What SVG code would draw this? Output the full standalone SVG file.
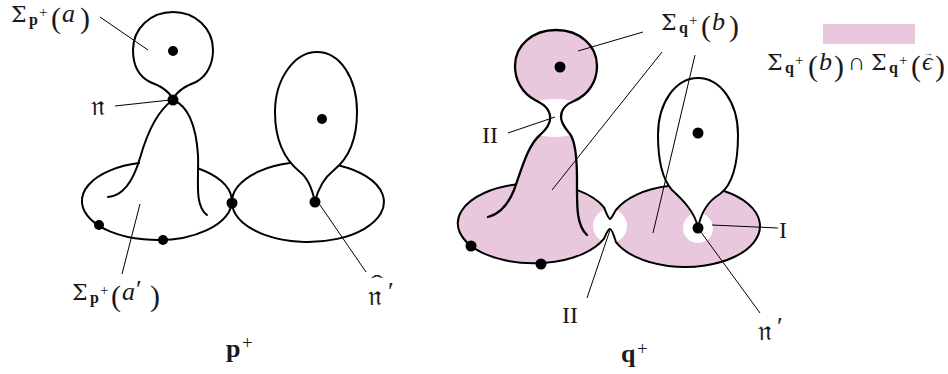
<svg xmlns="http://www.w3.org/2000/svg" width="948" height="374" viewBox="0 0 948 374">
<style>
.ln{fill:none;stroke:#000;stroke-width:2;stroke-linecap:round;stroke-linejoin:round}
.lq{fill:none;stroke:#000;stroke-width:2.3;stroke-linecap:round;stroke-linejoin:round}
.ld{fill:none;stroke:#000;stroke-width:1}
.dot{fill:#000}
.pk{fill:#E9C8DE}
.wh{fill:#fff}
.t{font-family:"Liberation Serif","DejaVu Serif",serif;fill:#1a1a1a;font-size:24px}
.sg{font-family:"DejaVu Serif","Liberation Serif",serif;font-size:22px}
.sb{font-weight:bold;font-size:16px}
.sp{font-size:15px}
.pr{font-size:30px}
.i{font-style:italic;font-size:26px}
.fr{font-family:"DejaVu Serif","Noto Sans","DejaVu Sans",serif;font-size:27px}
.big{font-weight:bold;font-size:26px}
.bigp{font-size:19px}
.prm{font-size:26px}
</style>
<rect width="948" height="374" fill="#fff"/>

<!-- p+ diagram -->
<g id="p-top-loop">
<path class="ln" d="M173,99 C168,90 160,86 150,82 C138,76 133,64 133,50 C133,28 151,12 173,12 C195,12 213,28 213,50 C213,64 207,76 196,82 C186,86 178,90 173,99"/>
<circle class="dot" cx="173" cy="51" r="5"/>
</g>
<g id="p-hill">
<path class="ln" d="M173,100 C158,110 148,130 140,158 C133,182 122,196 108,197"/>
<path class="ln" d="M173,100 C188,106 196,125 198,155 C199,180 194,205 207,215"/>
</g>
<g id="p-left-disc">
<path class="ln" d="M139,163.1 A75,39 0 1,0 199,168.7"/>
<circle class="dot" cx="99" cy="225" r="5"/>
<circle class="dot" cx="163" cy="240" r="5"/>
</g>
<g id="p-right-disc">
<path class="ln" d="M290,163.1 A76,40 0 1,0 340,165.7"/>
</g>
<g id="p-teardrop">
<path class="ln" d="M315,202 C312,188 308,178 300,172 C285,160 275,140 275,112 C275,78 295,52 317,52 C340,52 357,78 357,112 C357,140 349,158 334,170 C324,178 318,188 315,202 Z"/>
<circle class="dot" cx="322" cy="119" r="5"/>
</g>
<g id="p-nodes">
<circle class="dot" cx="173" cy="100" r="5.5"/>
<circle class="dot" cx="232" cy="203" r="5.5"/>
<circle class="dot" cx="315" cy="202" r="5.5"/>
</g>

<!-- q+ diagram -->
<g id="q-fill">
<ellipse class="pk" cx="534" cy="223" rx="76" ry="40"/>
<ellipse class="pk" cx="685" cy="226" rx="75" ry="41"/>
<path class="pk" d="M488,217 C500,214 508,205 514,190 C522,168 528,145 540,135 C548,128 551,122 550,116 C549,108 543,104 535,100 C522,93 515,80 515,66 C515,45 533,30 556,30 C579,30 597,45 597,66 C597,82 588,95 574,101 C566,104 561,110 561,117 C561,124 566,129 570,134 C576,142 577,160 577,180 C577,205 576,225 587,235 Z"/>
<path class="wh" d="M698,228 C695,212 683,200 672,190 C663,180 658,162 658,135 C658,102 676,78 698,78 C720,78 738,102 738,135 C738,165 732,185 720,194 C708,201 701,212 698,228 Z"/>
<ellipse class="wh" cx="555" cy="118" rx="40" ry="19"/>
<circle class="wh" cx="610" cy="226" r="17"/>
<circle class="wh" cx="698" cy="228" r="15"/>
</g>
<g id="q-top-hill">
<path class="lq" d="M488,217 C500,214 508,205 514,190 C522,168 528,145 540,135 C548,128 551,122 550,116 C549,108 543,104 535,100 C522,93 515,80 515,66 C515,45 533,30 556,30 C579,30 597,45 597,66 C597,82 588,95 574,101 C566,104 561,110 561,117 C561,124 566,129 570,134 C576,142 577,160 577,180 C577,205 576,225 587,235"/>
<circle class="dot" cx="560" cy="67" r="5.5"/>
</g>
<g id="q-discs">
<path class="ln" d="M516,184.4 A76,40 0 1,0 604,238.6 C606,234 608,229 610,229 C612,229 614,236 616,242.1 A75,41 0 1,0 724,191"/>
<path class="ln" d="M668,186 A75,41 0 0,0 616,209.9 C614,213 612,218 610,219 C608,218 606,212 604,207.4 A76,40 0 0,0 578,190.4"/>
<circle class="dot" cx="471" cy="246" r="5.5"/>
<circle class="dot" cx="541" cy="264" r="5.5"/>
</g>
<g id="q-teardrop">
<path class="ln" d="M698,228 C695,212 683,200 672,190 C663,180 658,162 658,135 C658,102 676,78 698,78 C720,78 738,102 738,135 C738,165 732,185 720,194 C708,201 701,212 698,228 Z"/>
<circle class="dot" cx="698" cy="133" r="5.5"/>
<circle class="dot" cx="698" cy="228" r="5.5"/>
</g>

<!-- legend -->
<g id="legend">
<rect class="pk" x="823" y="24" width="92" height="20"/>
<text class="t"><tspan class="sg" x="767" y="70">Σ</tspan><tspan class="sb" x="785" y="73">q</tspan><tspan class="sp" x="795" y="65">+</tspan><tspan class="pr" x="808" y="76">(</tspan><tspan class="i" x="819" y="70">b</tspan><tspan class="pr" x="834" y="76">)</tspan><tspan x="848" y="70">∩</tspan><tspan class="sg" x="871" y="70">Σ</tspan><tspan class="sb" x="889" y="73">q</tspan><tspan class="sp" x="899" y="65">+</tspan><tspan class="pr" x="911" y="76">(</tspan><tspan class="i" x="922" y="70">ϵ</tspan><tspan class="pr" x="935" y="76">)</tspan></text>
<text class="t" x="923" y="56" style="font-size:10px">→</text>
</g>

<!-- connectors (leader lines) -->
<g id="connectors">
<line class="ld" x1="100" y1="17" x2="148" y2="50"/>
<line class="ld" x1="115" y1="106" x2="170" y2="100"/>
<line class="ld" x1="122" y1="274" x2="140" y2="204"/>
<line class="ld" x1="320" y1="205" x2="366" y2="272"/>
<line class="ld" x1="643" y1="32" x2="578" y2="51"/>
<line class="ld" x1="662" y1="52" x2="552" y2="190"/>
<line class="ld" x1="695" y1="55" x2="653" y2="233"/>
<line class="ld" x1="508" y1="133" x2="555" y2="117"/>
<line class="ld" x1="587" y1="298" x2="610" y2="230"/>
<line class="ld" x1="712" y1="225" x2="778" y2="228"/>
<line class="ld" x1="698" y1="228" x2="760" y2="313"/>
</g>

<!-- labels -->
<g id="labels">
<text class="t"><tspan class="sg" x="11" y="22">Σ</tspan><tspan class="sb" x="29" y="25">p</tspan><tspan class="sp" x="39" y="17">+</tspan><tspan class="pr" x="51" y="28">(</tspan><tspan class="i" x="62" y="22">a</tspan><tspan class="pr" x="80" y="28">)</tspan></text>
<text class="t fr" x="91" y="115">𝔫</text>
<text class="t"><tspan class="sg" x="72" y="300">Σ</tspan><tspan class="sb" x="90" y="303">p</tspan><tspan class="sp" x="100" y="295">+</tspan><tspan class="pr" x="111" y="306">(</tspan><tspan class="i" x="122" y="300">a</tspan><tspan class="prm" x="136" y="298">′</tspan><tspan class="pr" x="150" y="306">)</tspan></text>
<text class="t fr" x="368" y="305">𝔫</text>
<text class="t prm" x="388" y="300">′</text>
<text class="t" x="371" y="288" style="font-size:18px" transform="translate(371,0) scale(2,1) translate(-371,0)">ˆ</text>
<text class="t"><tspan class="big" x="226" y="357">p</tspan><tspan class="bigp" x="242" y="349">+</tspan></text>

<text class="t"><tspan class="sg" x="661" y="30">Σ</tspan><tspan class="sb" x="679" y="33">q</tspan><tspan class="sp" x="689" y="25">+</tspan><tspan class="pr" x="701" y="36">(</tspan><tspan class="i" x="712" y="30">b</tspan><tspan class="pr" x="729" y="36">)</tspan></text>
<text class="t" x="482" y="143">II</text>
<text class="t" x="562" y="323">II</text>
<text class="t" x="779" y="238">I</text>
<text class="t fr" x="758" y="340">𝔫</text>
<text class="t prm" x="777" y="335">′</text>
<text class="t"><tspan class="big" x="621" y="362">q</tspan><tspan class="bigp" x="637" y="355">+</tspan></text>
</g>
</svg>
